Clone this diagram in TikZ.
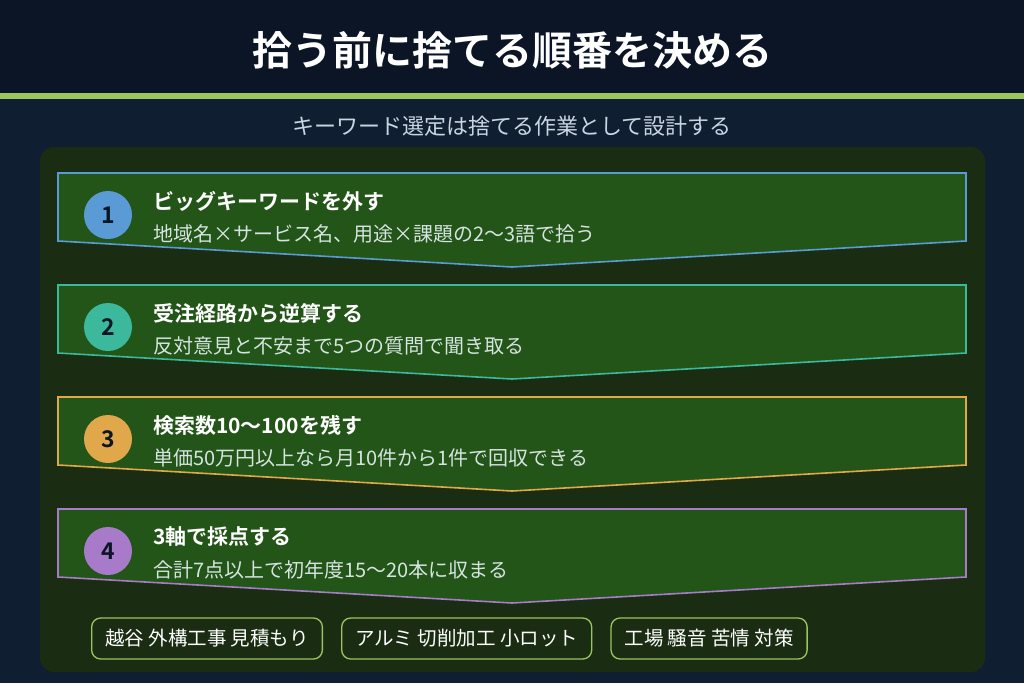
\documentclass[tikz,border=0pt]{standalone}
\usepackage{fontspec}
\setmainfont{Noto Sans CJK JP}[BoldFont={Noto Sans CJK JP Bold}]
\usetikzlibrary{positioning}

\definecolor{headbg}{HTML}{0B1526}
\definecolor{bodybg}{HTML}{0F1E30}
\definecolor{accent}{HTML}{9BC55F}
\definecolor{panelbg}{HTML}{1A2D12}
\definecolor{stepbg}{HTML}{235418}
\definecolor{subgray}{HTML}{C9D5E2}
\definecolor{notegray}{HTML}{D6E4E0}
\definecolor{cblue}{HTML}{5B9BD5}
\definecolor{cteal}{HTML}{3CB89C}
\definecolor{corange}{HTML}{E0A84A}
\definecolor{cpurple}{HTML}{A77BC9}

\tikzset{
 numdot/.style={circle, minimum size=48pt, inner sep=0pt, text=headbg, font=\bfseries\fontsize{23}{23}\selectfont},
 steptitle/.style={anchor=west, inner sep=0pt, text=white, font=\bfseries\fontsize{21}{21}\selectfont},
 stepnote/.style={anchor=west, inner sep=0pt, text=notegray, font=\fontsize{20}{20}\selectfont},
 tagpill/.style={draw=accent, line width=1.3pt, fill=panelbg, rounded corners=9pt, text=white,
  minimum height=41pt, inner xsep=13.5pt, font=\fontsize{19.5}{19.5}\selectfont}
}

\begin{document}
\begin{tikzpicture}[x=1pt,y=-1pt]

\useasboundingbox (0,0) rectangle (1024,683);
\fill[bodybg] (0,0) rectangle (1024,683);
\fill[headbg] (0,0) rectangle (1024,93);
\fill[accent] (0,93) rectangle (1024,99);

\node[text=white, font=\bfseries\fontsize{40}{40}\selectfont] (title) at (512,50) {拾う前に捨てる順番を決める};
\node[text=subgray, font=\fontsize{22}{22}\selectfont] (subtitle) at (512,126) {キーワード選定は捨てる作業として設計する};

\fill[panelbg, rounded corners=14pt] (40,147) rectangle (985,672);

% steps
\foreach \n/\c/\a/\b [count=\i from 0] in {
 1/cblue/ビッグキーワードを外す/地域名×サービス名、用途×課題の2〜3語で拾う,
 2/cteal/受注経路から逆算する/反対意見と不安まで5つの質問で聞き取る,
 3/corange/検索数10〜100を残す/単価50万円以上なら月10件から1件で回収できる,
 4/cpurple/3軸で採点する/合計7点以上で初年度15〜20本に収まる}
{
 \pgfmathsetmacro\y{173+112*\i}
 \draw[\c, line width=1.6pt, fill=stepbg] (58,\y) -- (966,\y) -- (966,\y+68) -- (512,\y+94) -- (58,\y+68) -- cycle;
 \node[numdot, fill=\c] (dot\n) at (108,\y+42) {\n};
 \node[steptitle] (head\n) at (153,\y+28) {\a};
 \node[stepnote] (note\n) at (153,\y+61) {\b};
}

% tags
\node[tagpill, anchor=west] (tagA) at (91,638.5) {越谷 外構工事 見積もり};
\node[tagpill, right=18pt of tagA] (tagB) {アルミ 切削加工 小ロット};
\node[tagpill, right=18pt of tagB] (tagC) {工場 騒音 苦情 対策};

\end{tikzpicture}
\end{document}
